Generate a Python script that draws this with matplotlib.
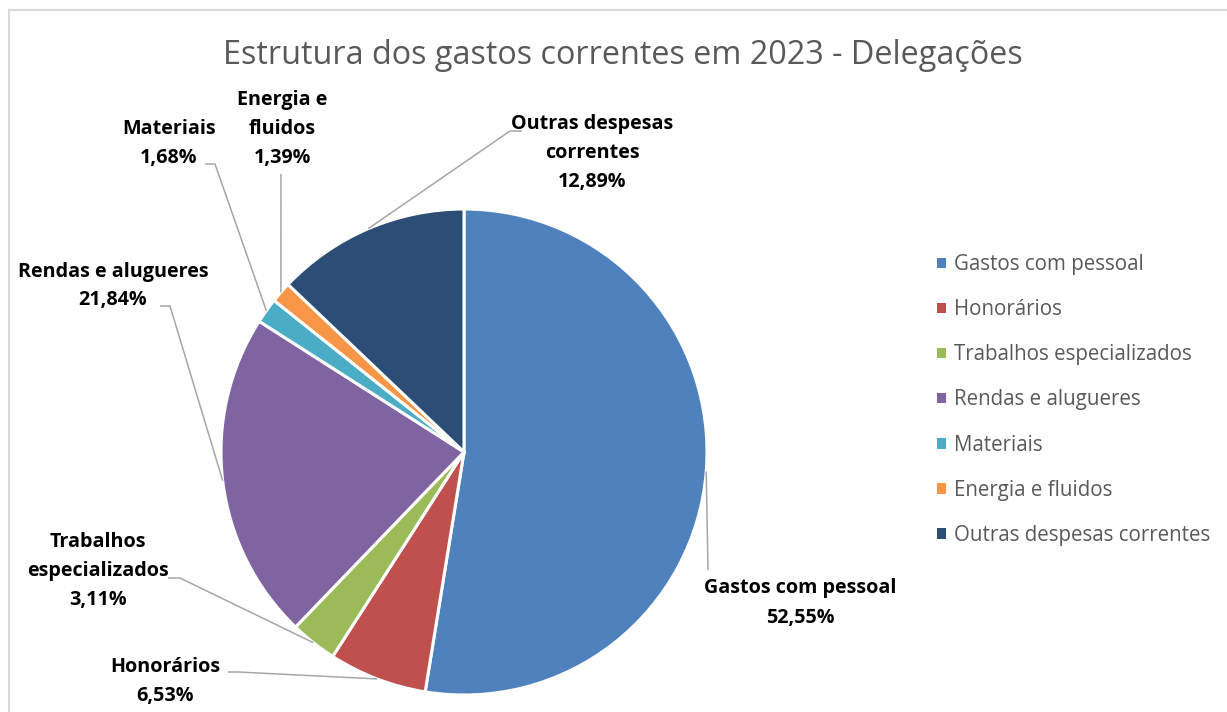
import matplotlib
matplotlib.use("Agg")
import matplotlib.pyplot as plt
import numpy as np
from matplotlib.patches import Rectangle, Patch

W, H = 1227, 712
plt.rcParams["font.family"] = ["Open Sans", "DejaVu Sans"]

TITLE = "Estrutura dos gastos correntes em 2023 - Delegações"
CATS = ["Gastos com pessoal", "Honorários", "Trabalhos especializados",
        "Rendas e alugueres", "Materiais", "Energia e fluidos",
        "Outras despesas correntes"]
SHARE = [52.55, 6.53, 3.11, 21.84, 1.68, 1.39, 12.89]
LABELS = ["Gastos com pessoal", "Honorários", "Trabalhos\nespecializados",
          "Rendas e alugueres", "Materiais", "Energia e\nfluidos",
          "Outras despesas\ncorrentes"]
COLORS = ["#4F81BD", "#C0504D", "#9BBB59", "#8064A2", "#4BACC6", "#F79646", "#2C4D75"]

# label placement (pixel coords, top origin): text centre, leader elbow, leader end
TXT = [(800, 603), (165, 681), (98, 571), (113, 286), (169, 144), (282, 129), (592, 153)]
ELB = [(708, 570), (238, 672), (180, 578), (170, 306), (215, 164), (281, 174), (510, 131)]
END = [(708, 570), (228, 672), (168, 578), (160, 306), (205, 164), (281, 174), (522, 131)]

P = lambda x, y: (x, H - y)
CX, CY, R = 464, 452, 243

fig = plt.figure(figsize=(W / 100, H / 100), dpi=100)
ax = fig.add_axes([0, 0, 1, 1])
wedges, _ = ax.pie(SHARE, colors=COLORS, startangle=90, counterclock=False,
                   center=P(CX, CY), radius=R,
                   wedgeprops=dict(edgecolor="white", linewidth=2.2))
ax.set_xlim(0, W); ax.set_ylim(0, H); ax.set_aspect("equal"); ax.axis("off")

for w, lab, v, t, e, n in zip(wedges, LABELS, SHARE, TXT, ELB, END):
    a = np.deg2rad((w.theta1 + w.theta2) / 2)
    rx, ry = CX + R * np.cos(a), CY - R * np.sin(a)
    xs, ys = zip(P(rx, ry), P(*e), P(*n))
    ax.plot(xs, ys, color="#A6A6A6", lw=1.1, solid_capstyle="butt")
    ax.text(*P(*t), f"{lab}\n{v:.2f}%".replace(".", ","), ha="center", va="center",
            fontsize=14.2, fontweight="bold", color="black", linespacing=1.6)

fig.text(623 / W, 1 - 55 / H, TITLE, ha="center", va="center", fontsize=23.3, color="#595959")

handles = [Patch(facecolor=c, edgecolor="none") for c in COLORS]
leg = fig.legend(handles, CATS, loc="center left", bbox_to_anchor=(937 / W, 1 - 400 / H),
                 frameon=False, fontsize=14.8, handlelength=0.42, handleheight=0.42,
                 handletextpad=0.4, labelspacing=1.17, borderpad=0, borderaxespad=0)
for txt in leg.get_texts():
    txt.set_color("#595959")

fig.patches.append(Rectangle((9 / W, -0.1), 1.2, (H - 10) / H + 0.1, transform=fig.transFigure,
                             fill=False, edgecolor="#D9D9D9", lw=1.5))
fig.savefig("out.png", dpi=100)
